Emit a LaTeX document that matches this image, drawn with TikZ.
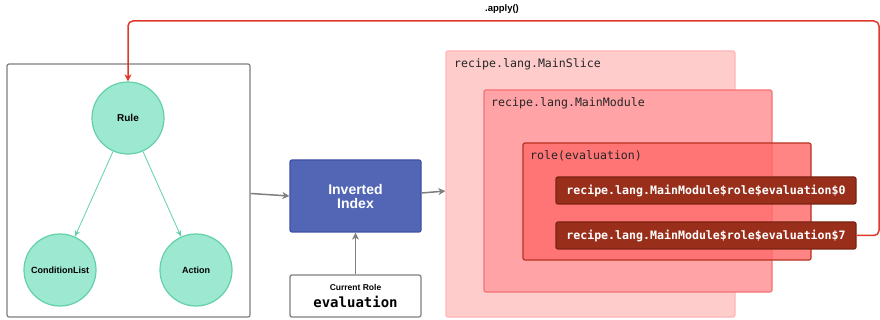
\documentclass[tikz,border=0pt]{standalone}
\usepackage{fontspec}
\setmainfont{Liberation Sans}
\setmonofont{DejaVu Sans Mono}
\usetikzlibrary{arrows.meta}
\definecolor{grayline}{HTML}{7F7F7F}
\definecolor{tealfill}{HTML}{9DE8D0}
\definecolor{tealline}{HTML}{62D1A8}
\definecolor{invfill}{HTML}{5266B5}
\definecolor{invline}{HTML}{3E4FA5}
\definecolor{slicefill}{HTML}{FFCCCC}
\definecolor{sliceline}{HTML}{FFB5B5}
\definecolor{modfill}{HTML}{FFA3A6}
\definecolor{modline}{HTML}{F47277}
\definecolor{rolefill}{HTML}{FF6B6B}
\definecolor{roleline}{HTML}{B8321F}
\definecolor{itemfill}{HTML}{992E1A}
\definecolor{itemline}{HTML}{7A2212}
\definecolor{applyred}{HTML}{E0392B}
\tikzset{
  plainbox/.style={draw=grayline, line width=1.2pt, rounded corners=2pt, fill=white},
  circ/.style={circle, draw=tealline, fill=tealfill, line width=1.2pt, minimum size=72pt, inner sep=0pt, font=\fontsize{9}{11}\selectfont\bfseries},
  tealarrow/.style={draw=tealline, line width=0.8pt, -{Stealth[length=6pt,width=5pt,inset=1.5pt]}},
  grayarrow/.style={draw=grayline, line width=1.5pt, -{Stealth[length=7pt,width=7pt,inset=2pt]}},
  invbox/.style={draw=invline, fill=invfill, line width=1.2pt, rounded corners=2pt, minimum width=131pt, minimum height=72pt, text=white, align=center, font=\fontsize{14}{14}\selectfont\bfseries},
  contbox/.style={line width=1.2pt, rounded corners=2pt, inner sep=0pt},
  contlabel/.style={anchor=west, inner sep=0pt, font=\fontsize{11.6}{13}\selectfont\ttfamily, text=black!85},
  itembox/.style={draw=itemline, fill=itemfill, line width=1.2pt, rounded corners=2pt, minimum width=300pt, minimum height=27pt, inner sep=0pt, text=white, font=\fontsize{11.6}{13}\selectfont\ttfamily\bfseries},
  redline/.style={draw=applyred, line width=1.5pt, rounded corners=5pt, -{Stealth[length=7pt,width=7pt,inset=2pt]}}
}
\begin{document}
\begin{tikzpicture}[x=1pt,y=-1pt]
\useasboundingbox (0,0) rectangle (880,320);
% left container
\node[plainbox, minimum width=243pt, minimum height=253pt] (leftbox) at (128.5,190.5) {};
\node[circ, font=\fontsize{10}{12}\selectfont\bfseries] (rule) at (128,118) {Rule};
\node[circ] (cl) at (60,270) {ConditionList};
\node[circ] (act) at (196,270) {Action};
\draw[tealarrow] (rule) -- (cl);
\draw[tealarrow] (rule) -- (act);
% inverted index
\node[invbox] (inv) at (355.5,196) {Inverted\\Index};
\node[plainbox, minimum width=131pt, minimum height=42pt, align=center, inner sep=0pt] (crole) at (355.5,296)
  {{\fontsize{8.5}{10}\selectfont\bfseries Current Role}\\[5pt]{\fontsize{14}{14}\selectfont\ttfamily\bfseries evaluation}};
% containers
\node[contbox, draw=sliceline, fill=slicefill, minimum width=289pt, minimum height=266pt] (slice) at (590.5,184) {};
\node[contlabel] (slicelbl) at (454,64) {recipe.lang.MainSlice};
\node[contbox, draw=modline, fill=modfill, minimum width=288pt, minimum height=202pt] (module) at (628,191) {};
\node[contlabel] (modlbl) at (491,103) {recipe.lang.MainModule};
\node[contbox, draw=roleline, fill=rolefill, fill opacity=0.83, minimum width=288pt, minimum height=117pt] (rolebox) at (667,201.5) {};
\node[contlabel] (rolelbl) at (530,156) {role(evaluation)};
\node[itembox] (item0) at (706,190.5) {recipe.lang.MainModule\$role\$evaluation\$0};
\node[itembox] (item7) at (706,235.5) {recipe.lang.MainModule\$role\$evaluation\$7};
% gray connectors
\draw[grayarrow] ([yshift=-3pt]leftbox.east) -- (inv.west);
\draw[grayarrow] ([yshift=3pt]inv.east) -- ([yshift=5pt]slice.west |- inv.east);
\draw[grayarrow] (crole.north) -- (inv.south);
% apply loop
\coordinate (turnR) at (879,21);
\draw[redline] (item7.east) -| (turnR) -| (rule.north);
\node[font=\fontsize{9.5}{11}\selectfont\bfseries] (applylbl) at (502,9) {.apply()};
\end{tikzpicture}
\end{document}
